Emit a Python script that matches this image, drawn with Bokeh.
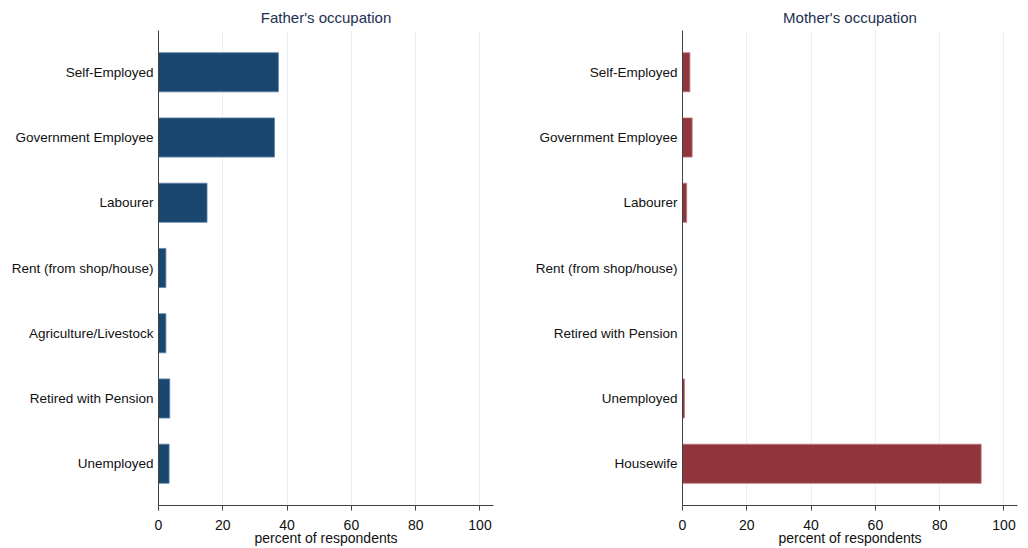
from bokeh.plotting import figure
from bokeh.models import FactorRange, Range1d, FixedTicker
from bokeh.layouts import row
from bokeh.embed import file_html
from bokeh.resources import INLINE

father_categories = ["Self-Employed", "Government Employee", "Labourer",
                     "Rent (from shop/house)", "Agriculture/Livestock",
                     "Retired with Pension", "Unemployed"]
father_values = [37.3, 36.1, 15.1, 2.3, 2.3, 3.5, 3.3]

mother_categories = ["Self-Employed", "Government Employee", "Labourer",
                     "Rent (from shop/house)", "Retired with Pension",
                     "Unemployed", "Housewife"]
mother_values = [2.3, 3.0, 1.3, 0.0, 0.0, 0.6, 92.9]

x_ticks = [0, 20, 40, 60, 80, 100]
x_label = "percent of respondents"
FONT = "Liberation Sans"


def make_panel(title, cats, vals, color, edge, border_right):
    p = figure(
        y_range=FactorRange(factors=list(reversed(cats)), range_padding=0.04),
        x_range=Range1d(0, 104.2),
        frame_width=335, frame_height=475,
        min_border_left=158, min_border_right=border_right,
        min_border_top=30, min_border_bottom=43,
        toolbar_location=None, output_backend="svg",
        title=title,
    )
    p.hbar(y=cats, right=vals, left=0, height=0.6,
           fill_color=color, line_color=edge, line_width=0.8)
    p.title.align = "center"
    p.title.text_font = FONT
    p.title.text_font_size = "15px"
    p.title.text_font_style = "normal"
    p.title.text_color = "#1e3050"
    p.title.standoff = 9
    p.title.offset = 0
    p.outline_line_color = None
    p.background_fill_color = "white"
    p.border_fill_color = "white"

    p.ygrid.grid_line_color = None
    p.xgrid.grid_line_color = "#e8f0f2"
    p.xgrid.grid_line_width = 1
    p.xaxis.ticker = FixedTicker(ticks=x_ticks)

    for ax in (p.xaxis[0], p.yaxis[0]):
        ax.axis_line_color = "#404040"
        ax.axis_line_width = 1
        ax.minor_tick_line_color = None
        ax.minor_tick_out = 0
        ax.minor_tick_in = 0
        ax.major_label_text_font = FONT
        ax.major_label_text_color = "#111111"

    p.yaxis.major_tick_line_color = None
    p.yaxis.major_tick_out = 0
    p.yaxis.major_tick_in = 0
    p.yaxis.major_label_standoff = 5
    p.yaxis.major_label_text_font_size = "13.5px"

    p.xaxis.major_tick_line_color = "#404040"
    p.xaxis.major_tick_out = 5
    p.xaxis.major_tick_in = 0
    p.xaxis.major_label_standoff = 9
    p.xaxis.major_label_text_font_size = "14px"
    p.xaxis.axis_label = x_label
    p.xaxis.axis_label_text_font = FONT
    p.xaxis.axis_label_text_font_size = "14px"
    p.xaxis.axis_label_text_font_style = "normal"
    p.xaxis.axis_label_text_color = "#111111"
    p.xaxis.axis_label_standoff = -3
    return p


p1 = make_panel("Father's occupation", father_categories, father_values,
                "#1a476f", "#5f84a8", 31)
p2 = make_panel("Mother's occupation", mother_categories, mother_values,
                "#90353b", "#c07a80", 11)

layout = row(p1, p2)
open("out.html", "w").write(file_html(layout, INLINE))
